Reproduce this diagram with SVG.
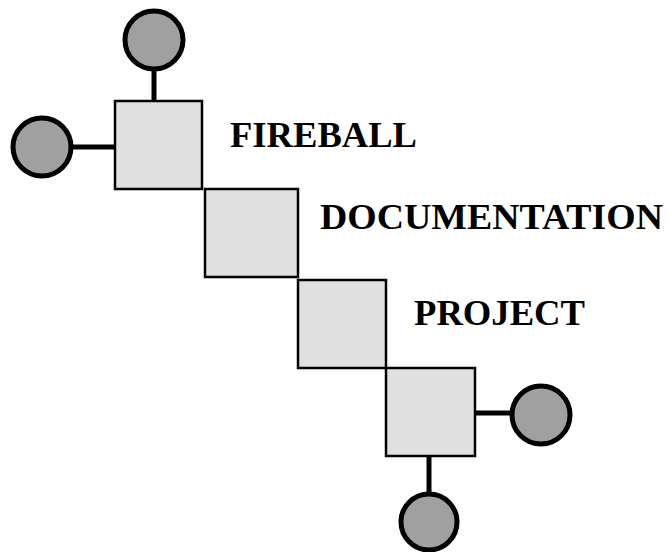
<svg xmlns="http://www.w3.org/2000/svg" width="668" height="552" viewBox="0 0 668 552">
  <style>
    .box { fill: #e0e0e0; stroke: #000; stroke-width: 2.5; }
    .knob { fill: #a0a0a0; stroke: #000; stroke-width: 5; }
    .stem { stroke: #000; stroke-width: 5; fill: none; }
    .label { font-family: "Liberation Serif", "Times New Roman", serif; font-weight: 700; font-size: 35px; fill: #000; }
  </style>
  <rect width="668" height="552" fill="#fff"/>
  <g id="connectors">
    <line class="stem" x1="154" y1="70" x2="154" y2="102"/>
    <line class="stem" x1="72" y1="147" x2="116" y2="147"/>
    <line class="stem" x1="474" y1="413" x2="511" y2="413"/>
    <line class="stem" x1="429" y1="455" x2="429" y2="494"/>
  </g>
  <g id="box1"><rect class="box" x="115" y="101" width="87" height="88"/></g>
  <g id="box2"><rect class="box" x="205" y="189" width="93" height="88"/></g>
  <g id="box3"><rect class="box" x="298" y="280" width="88" height="88"/></g>
  <g id="box4"><rect class="box" x="386" y="368" width="89" height="88"/></g>
  <g id="knob-top"><circle class="knob" cx="154" cy="40" r="29"/></g>
  <g id="knob-left"><circle class="knob" cx="42" cy="147" r="29"/></g>
  <g id="knob-right"><circle class="knob" cx="541" cy="415" r="29"/></g>
  <g id="knob-bottom"><circle class="knob" cx="429" cy="522" r="28"/></g>
  <g id="title">
    <text class="label" x="230" y="147" textLength="187" lengthAdjust="spacingAndGlyphs">FIREBALL</text>
    <text class="label" x="320" y="229" textLength="343" lengthAdjust="spacingAndGlyphs">DOCUMENTATION</text>
    <text class="label" x="414" y="325" textLength="171" lengthAdjust="spacingAndGlyphs">PROJECT</text>
  </g>
</svg>
